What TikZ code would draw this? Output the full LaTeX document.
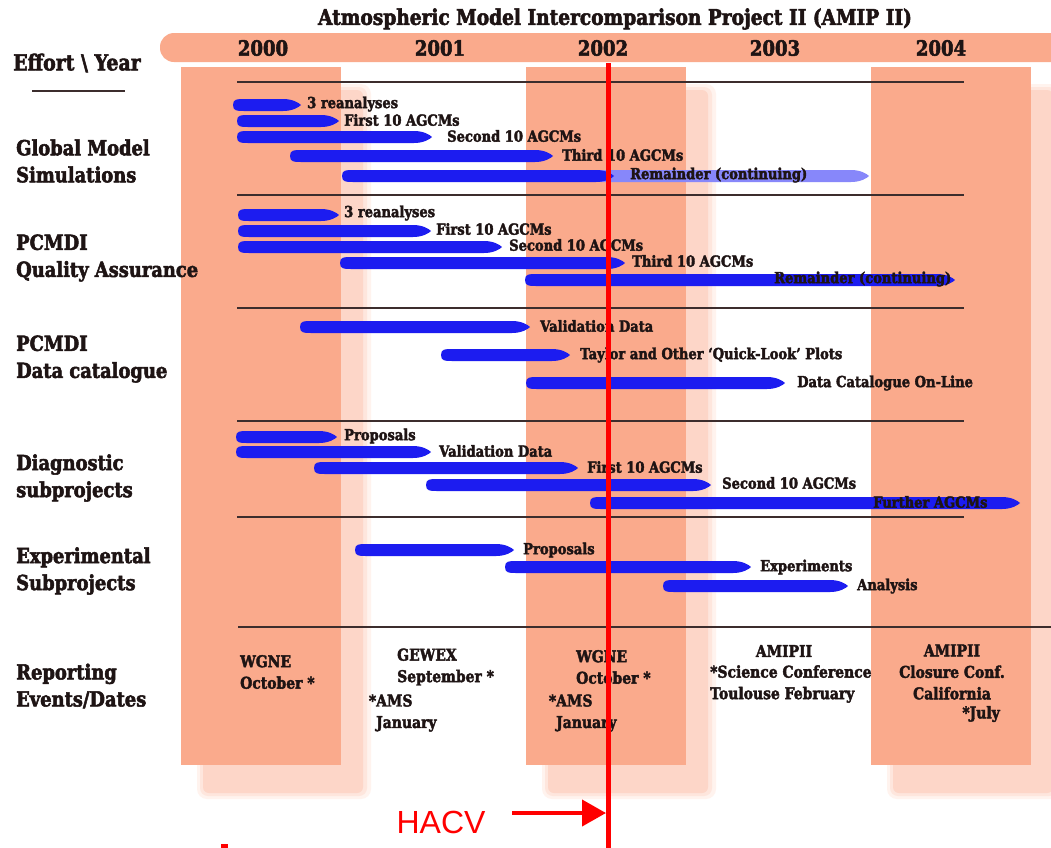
\documentclass[tikz,border=0pt]{standalone}
\usepackage{fontspec}
\usepackage{tikz}
\usetikzlibrary{arrows.meta}
\setmainfont{DejaVu Serif}
\newfontfamily\slab{DejaVu Serif}[FakeStretch=0.86, BoldFeatures={FakeBold=2.5}]
\newfontfamily\hacvfont{Liberation Sans}
\definecolor{salmon}{RGB}{250,170,140}
\definecolor{shadeA}{RGB}{253,214,200}
\definecolor{shadeB}{RGB}{254,230,221}
\definecolor{shadeC}{RGB}{255,243,238}
\definecolor{barblue}{RGB}{28,28,240}
\definecolor{paleblue}{RGB}{135,135,250}
\definecolor{ink}{RGB}{30,20,20}
\definecolor{gridline}{RGB}{60,45,45}
\newcommand{\gbar}[4][barblue]{%
  \fill[#1] (#2,#4) .. controls (#2,#4-6) and (#2+4,#4-6) .. (#2+11,#4-6)
    -- (#3-18,#4-6) .. controls (#3-8,#4-6) and (#3-2,#4-2) .. (#3,#4)
    .. controls (#3-2,#4+2) and (#3-8,#4+6) .. (#3-18,#4+6)
    -- (#2+11,#4+6) .. controls (#2+4,#4+6) and (#2,#4+6) .. (#2,#4) -- cycle;}
\newcommand{\yearcol}[2]{%
  \fill[shadeC, rounded corners=10] (#1+16,84) rectangle (#2+30,799);
  \fill[shadeB, rounded corners=8] (#1+19,87) rectangle (#2+26,796);
  \fill[shadeA, rounded corners=6] (#1+22,90) rectangle (#2+22,793);
  \fill[salmon] (#1,67) rectangle (#2,765);}

\begin{document}
\begin{tikzpicture}[x=1pt, y=-1pt, every node/.style={inner sep=0pt, text=ink},
  lbl/.style={font=\slab\bfseries\fontsize{15.2}{17}\selectfont, anchor=west},
  head/.style={font=\slab\bfseries\fontsize{20.8}{27}\selectfont, align=left, anchor=west},
  yr/.style={font=\slab\bfseries\fontsize{21}{24}\selectfont},
  ev/.style={font=\slab\bfseries\fontsize{16.2}{21.5}\selectfont, align=left, anchor=west}]
  \fill[white] (0,0) rectangle (1051,847);
  \useasboundingbox (0,0) rectangle (1051,847);

  \fill[salmon, rounded corners=14] (160,33) rectangle (1090,62);
  \yearcol{181}{341}
  \yearcol{526}{686}
  \yearcol{871}{1031}

  \node[font=\slab\bfseries\fontsize{21.6}{24}\selectfont] (title) at (615,19) {Atmospheric Model Intercomparison Project II (AMIP II)};
  \node[yr] (y2000) at (263,48) {2000};
  \node[yr] (y2001) at (440,48) {2001};
  \node[yr] (y2002) at (603,48) {2002};
  \node[yr] (y2003) at (775,48) {2003};
  \node[yr] (y2004) at (941,48) {2004};

  \node[head, font=\slab\bfseries\fontsize{22}{27}\selectfont] (effort) at (13,63) {Effort \textbackslash{} Year};
  \draw[gridline, line width=1.5] (32,91) -- (125,91);

  \draw[gridline, line width=1.8] (237,82) -- (964,82);
  \draw[gridline, line width=1.8] (237,195) -- (964,195);
  \draw[gridline, line width=1.8] (237,308) -- (964,308);
  \draw[gridline, line width=1.8] (237,421) -- (964,421);
  \draw[gridline, line width=1.8] (237,517) -- (964,517);
  \draw[gridline, line width=1.8] (238,627) -- (1051,627);

  \node[head] (gms) at (16,161) {Global Model\\Simulations};
  \node[head] (pqa) at (16,258) {PCMDI\\Quality Assurance};
  \node[head] (pdc) at (16,359) {PCMDI\\Data catalogue};
  \node[head] (dsp) at (16,478) {Diagnostic\\subprojects};
  \node[head] (esp) at (16,571) {Experimental\\Subprojects};
  \node[head] (red) at (16,686) {Reporting\\Events/Dates};

  \gbar{233}{301}{105}
  \gbar{237}{339}{121}
  \gbar{237}{432}{137}
  \gbar{290}{553}{156}
  \gbar[paleblue]{590}{869}{176}
  \gbar{342}{614}{176}
  \node[lbl] (gms1) at (307,104) {3 reanalyses};
  \node[lbl] (gms2) at (344,120) {First 10 AGCMs};
  \node[lbl] (gms3) at (447,136) {Second 10 AGCMs};
  \node[lbl] (gms4) at (562,155) {Third 10 AGCMs};
  \node[lbl] (gms5) at (630,175) {Remainder (continuing)};

  \gbar{238}{339}{215}
  \gbar{238}{431}{231}
  \gbar{238}{502}{247}
  \gbar{340}{625}{263}
  \gbar{525}{955}{280}
  \node[lbl] (pqa1) at (344,213) {3 reanalyses};
  \node[lbl] (pqa2) at (436,229) {First 10 AGCMs};
  \node[lbl] (pqa3) at (509,245) {Second 10 AGCMs};
  \node[lbl] (pqa4) at (632,261) {Third 10 AGCMs};
  \node[lbl] (pqa5) at (774,279) {Remainder (continuing)};

  \gbar{300}{530}{327}
  \gbar{441}{570}{355}
  \gbar{526}{785}{383}
  \node[lbl] (pdc1) at (540,326) {Validation Data};
  \node[lbl] (pdc2) at (580,355) {Taylor and Other ‘Quick-Look’ Plots};
  \node[lbl] (pdc3) at (797,383) {Data Catalogue On-Line};

  \gbar{236}{337}{437}
  \gbar{236}{431}{452}
  \gbar{314}{578}{468}
  \gbar{426}{711}{485}
  \gbar{590}{1020}{503}
  \node[lbl] (dsp1) at (344,436) {Proposals};
  \node[lbl] (dsp2) at (439,451) {Validation Data};
  \node[lbl] (dsp3) at (587,467) {First 10 AGCMs};
  \node[lbl] (dsp4) at (722,483) {Second 10 AGCMs};
  \node[lbl] (dsp5) at (873,502) {Further AGCMs};

  \gbar{355}{514}{550}
  \gbar{505}{751}{567}
  \gbar{663}{848}{586}
  \node[lbl] (esp1) at (523,550) {Proposals};
  \node[lbl] (esp2) at (760,567) {Experiments};
  \node[lbl] (esp3) at (857,586) {Analysis};

  \node[ev] (wgne1) at (240,672) {WGNE\\October *};
  \node[ev] (gewex) at (397,667) {GEWEX\\September *};
  \node[ev] (ams1) at (376,713) {\llap{*}AMS\\January};
  \node[ev] (wgne2) at (576,667) {WGNE\\October *};
  \node[ev] (ams2) at (556,713) {\llap{*}AMS\\January};
  \node[ev, anchor=center] (amip1) at (784,651) {AMIPII};
  \node[ev] (sci) at (710,684) {*Science Conference\\Toulouse February};
  \node[ev, align=center, anchor=center] (amip2) at (952,672) {AMIPII\\Closure Conf.\\California};
  \node[ev, anchor=east] (july) at (1000,714) {*July};

  \draw[red, line width=5] (608,63) -- (608,850);
  \fill[red] (221,844) rectangle (228,848);
  \node[font=\hacvfont\fontsize{32}{36}\selectfont, text=red] (hacv) at (441,822) {HACV};
  \coordinate (hacvtail) at (512,813);
  \coordinate (hacvtip) at (606,813);
  \draw[red, line width=4, -{Triangle[length=24, width=26]}] (hacvtail) -- (hacvtip);
\end{tikzpicture}
\end{document}
